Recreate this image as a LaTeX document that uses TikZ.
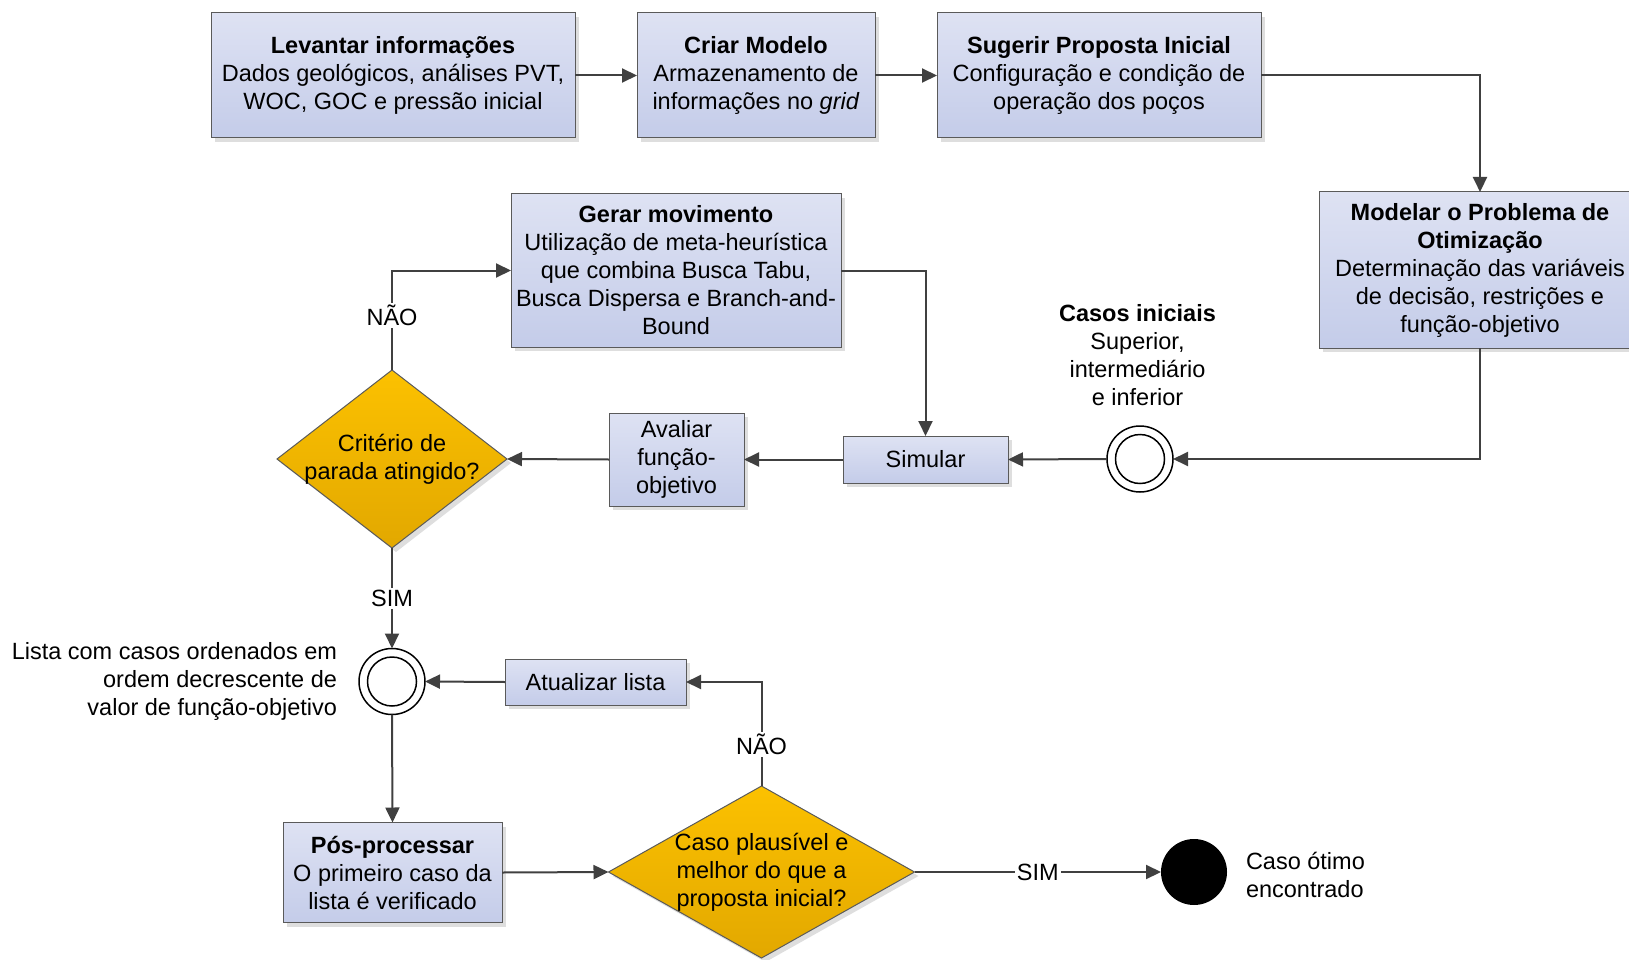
\documentclass[tikz,border=0pt]{standalone}
\usepackage{fontspec}
\setmainfont{Liberation Sans}
\usetikzlibrary{arrows.meta,shapes.geometric,shadows}

\definecolor{boxtop}{RGB}{222,226,243}
\definecolor{boxbot}{RGB}{196,204,233}
\definecolor{dectop}{RGB}{252,193,0}
\definecolor{decbot}{RGB}{226,168,0}
\definecolor{boxline}{RGB}{90,90,90}
\definecolor{linecol}{RGB}{64,64,64}
\definecolor{shadowcol}{RGB}{222,222,222}

\tikzset{
  txt/.style={font=\fontsize{23.5}{28}\selectfont, align=center, inner sep=0pt, outer sep=0pt},
  procbox/.style={txt, draw=boxline, line width=1pt, top color=boxtop, bottom color=boxbot,
    drop shadow={shadow xshift=4pt, shadow yshift=-4pt, fill=shadowcol, opacity=1}},
  decision/.style={diamond, draw=boxline, line width=1pt, inner sep=0pt, outer sep=0pt,
    top color=dectop, bottom color=decbot,
    drop shadow={shadow xshift=4pt, shadow yshift=-4pt, fill=shadowcol, opacity=1}},
  ring/.style={circle, draw=black, line width=1.5pt, fill=white, minimum size=66pt, inner sep=0pt, outer sep=0pt},
  conn/.style={draw=linecol, line width=2pt, -{Triangle[length=15pt,width=14pt]}},
  lbl/.style={txt, fill=white, inner sep=2pt},
}

\begin{document}
\begin{tikzpicture}[x=1pt, y=-1pt]
  \useasboundingbox (0,0) rectangle (1629,960);
  \clip (0,0) rectangle (1629,960);

  % top row
  \node[procbox, minimum width=364pt, minimum height=125pt] (lev) at (393,75.5)
    {\textbf{Levantar informações}\\Dados geológicos, análises PVT,\\WOC, GOC e pressão inicial};
  \node[procbox, minimum width=238pt, minimum height=125pt] (cri) at (756,75.5)
    {\textbf{Criar Modelo}\\Armazenamento de\\informações no \textit{grid}};
  \node[procbox, minimum width=324pt, minimum height=125pt] (sug) at (1099,75.5)
    {\textbf{Sugerir Proposta Inicial}\\Configuração e condição de\\operação dos poços};
  \node[procbox, minimum width=322pt, minimum height=156pt] (mod) at (1480,270)
    {\textbf{Modelar o Problema de}\\\textbf{Otimização}\\Determinação das variáveis\\de decisão, restrições e\\função-objetivo};

  % search loop
  \node[procbox, minimum width=330pt, minimum height=153pt] (gen) at (676,270.5)
    {\textbf{Gerar movimento}\\Utilização de meta-heurística\\que combina Busca Tabu,\\Busca Dispersa e Branch-and-\\Bound};
  \node[procbox, minimum width=135pt, minimum height=93pt] (ava) at (676.5,459.5)
    {Avaliar\\função-\\objetivo};
  \node[procbox, minimum width=165pt, minimum height=47pt] (sim) at (925.5,459.5) {Simular};
  \node[ring] (ini) at (1140,459) {};
  \draw[black, line width=1.5pt] (ini.center) circle[radius=24.5pt];
  \node[txt] (initxt) at (1137.5,355)
    {\textbf{Casos iniciais}\\Superior,\\intermediário\\e inferior};

  \node[decision, minimum width=230pt, minimum height=178pt] (crit) at (392,459) {};
  \node[txt] (crittxt) at (crit.center) {Critério de\\parada atingido?};

  % list and post-processing
  \node[ring] (lst) at (392,681.5) {};
  \draw[black, line width=1.5pt] (lst.center) circle[radius=24.5pt];
  \node[txt, anchor=east, align=right] (lsttxt) at (337,681.5)
    {Lista com casos ordenados em\\ordem decrescente de\\valor de função-objetivo};
  \node[procbox, minimum width=181pt, minimum height=46pt] (atu) at (595.5,682) {Atualizar lista};
  \node[procbox, minimum width=219pt, minimum height=100pt] (pos) at (392.5,872.5)
    {\textbf{Pós-processar}\\O primeiro caso da\\lista é verificado};

  \node[decision, minimum width=306pt, minimum height=172pt] (plaus) at (761.5,872) {};
  \node[txt] (plaustxt) at (plaus.center) {Caso plausível e\\melhor do que a\\proposta inicial?};

  \node[circle, fill=black, minimum size=66pt, inner sep=0pt, outer sep=0pt] (fim) at (1194,872) {};
  \node[txt, anchor=west, align=left] (fimtxt) at (1246,875) {Caso ótimo\\encontrado};

  % connectors
  \draw[conn] (lev) -- (cri);
  \draw[conn] (cri) -- (sug);
  \draw[conn] (sug.east) -| (mod.north);
  \draw[conn] (mod.south) |- (ini.east);
  \draw[conn] (ini.west) -- (sim.east);
  \draw[conn] (sim.west) -- (ava.east);
  \draw[conn] (ava.west) -- (crit.east);
  \draw[conn] (crit.north) -- node[lbl, pos=0.55] {NÃO} (crit.north |- gen.west) -- (gen.west);
  \draw[conn] (gen.east) -| (sim.north);
  \draw[conn] (crit.south) -- node[lbl] {SIM} (lst.north);
  \draw[conn] (atu.west) -- (lst.east);
  \draw[conn] (lst.south) -- (pos.north);
  \draw[conn] (pos.east) -- (plaus.west);
  \draw[conn] (plaus.north) -- node[lbl, pos=0.4] {NÃO} (plaus.north |- atu.east) -- (atu.east);
  \draw[conn] (plaus.east) -- node[lbl] {SIM} (fim.west);
\end{tikzpicture}
\end{document}
